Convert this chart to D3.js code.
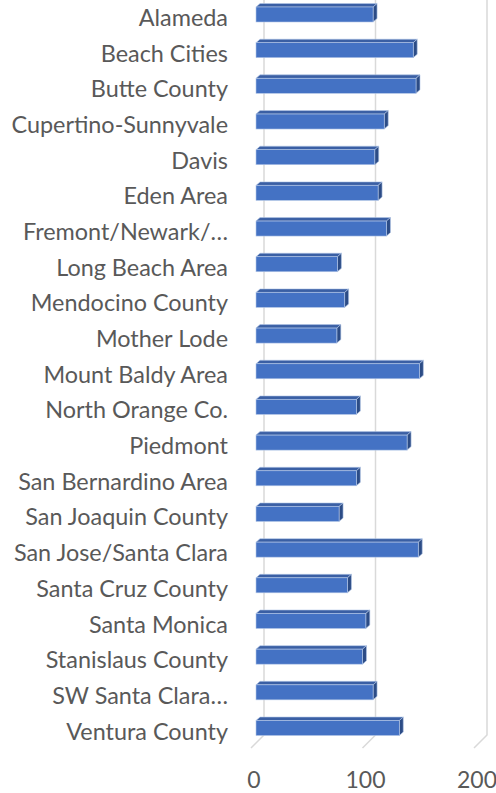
<!DOCTYPE html>
<html>
<head>
<meta charset="utf-8">
<script src="https://cdn.jsdelivr.net/npm/d3@7"></script>
<style>
  body { margin: 0; background: #fff; }
  text { font-family: Lato, "Noto Sans", sans-serif; fill: #595959; }
</style>
</head>
<body>
<div id="chart"></div>
<script>
// categories top to bottom
let categories = ["Alameda", "Beach Cities", "Butte County", "Cupertino-Sunnyvale", "Davis",
    "Eden Area", "Fremont/Newark/\u2026", "Long Beach Area", "Mendocino County", "Mother Lode",
    "Mount Baldy Area", "North Orange Co.", "Piedmont", "San Bernardino Area", "San Joaquin County",
    "San Jose/Santa Clara", "Santa Cruz County", "Santa Monica", "Stanislaus County",
    "SW Santa Clara\u2026", "Ventura County"];

let values = [105, 141, 143.5, 115, 106.5, 109.5, 117, 73, 79.5, 72.5,
    146.5, 90, 135.5, 90, 74.5, 145.5, 82, 98.5, 95.5, 105, 128.5];

let tickValues = [0, 100, 200];

let width = 496, height = 793;

let svg = d3.select("#chart").append("svg")
    .attr("width", width)
    .attr("height", height);

// back wall scale
let x = d3.scaleLinear().domain([0, 200]).range([264, 487]);

let y = d3.scaleBand().domain(categories).range([0, 749.2]);

// 3d offsets
let floorY = 735, floorDx = -13, floorDy = 13;
let barDx = -8, barDepthX = 4, barDepthY = -3.5;
let barTop = 7, barH = 15;

// gridlines on back wall + floor
let grid = svg.append("g").attr("class", "grid");
grid.selectAll("path")
    .data(tickValues)
    .enter()
    .append("path")
    .attr("d", d => `M${x(d)},0 L${x(d)},${floorY} L${x(d) + floorDx},${floorY + floorDy}`)
    .attr("fill", "none")
    .attr("stroke", "#d9d9d9")
    .attr("stroke-width", 1.5);

// tick labels
svg.append("g").selectAll("text")
    .data(tickValues)
    .enter()
    .append("text")
    .attr("x", d => x(d) + floorDx + 3)
    .attr("y", 788)
    .attr("text-anchor", "middle")
    .style("font-size", "23px")
    .text(d => d);

// category labels
svg.append("g").selectAll("text")
    .data(categories)
    .enter()
    .append("text")
    .attr("x", 228)
    .attr("y", d => y(d) + y.bandwidth() / 2)
    .attr("dy", "0.35em")
    .attr("text-anchor", "end")
    .style("font-size", "23.4px")
    .text(d => d);

// bars
let bars = svg.append("g").selectAll("g")
    .data(categories.map((c, i) => ({cat: c, val: values[i]})))
    .enter()
    .append("g");

let x0 = d => x(0) + barDx;
let x1 = d => x(d.val) + barDx;
let yt = d => y(d.cat) + barTop;

// top face
bars.append("path")
    .attr("d", d => `M${x0(d)},${yt(d)} L${x0(d) + barDepthX},${yt(d) + barDepthY} L${x1(d) + barDepthX},${yt(d) + barDepthY} L${x1(d)},${yt(d)} Z`)
    .attr("fill", "#3a5fa4")
    .attr("stroke", "#b4c7e7")
    .attr("stroke-width", 0.6);

// right end face
bars.append("path")
    .attr("d", d => `M${x1(d)},${yt(d)} L${x1(d) + barDepthX},${yt(d) + barDepthY} L${x1(d) + barDepthX},${yt(d) + barDepthY + barH} L${x1(d)},${yt(d) + barH} Z`)
    .attr("fill", "#2c4c86")
    .attr("stroke", "#b4c7e7")
    .attr("stroke-width", 0.6);

// front face
bars.append("rect")
    .attr("x", x0)
    .attr("y", yt)
    .attr("width", d => x1(d) - x0(d))
    .attr("height", barH)
    .attr("fill", "#4472c4")
    .attr("stroke", "#b4c7e7")
    .attr("stroke-width", 0.6);
</script>
</body>
</html>
